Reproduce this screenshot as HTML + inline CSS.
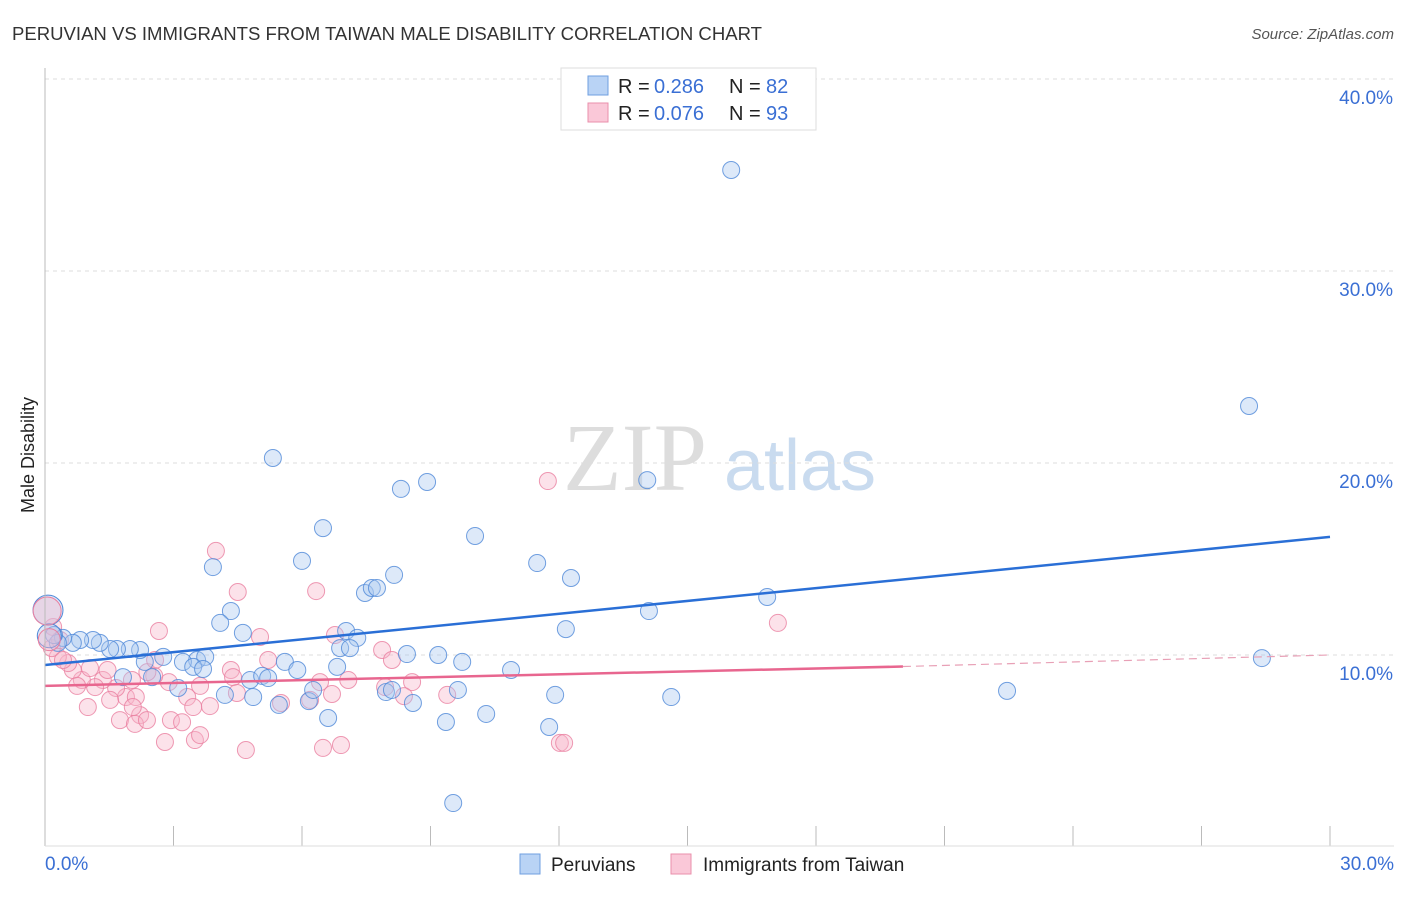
<!DOCTYPE html>
<html><head><meta charset="utf-8"><style>
body{margin:0;background:#fff;font-family:"Liberation Sans",sans-serif}
</style></head><body>
<svg width="1406" height="892" xmlns="http://www.w3.org/2000/svg" id="svg">
<text x="12" y="40" font-size="18" fill="#333" textLength="750" lengthAdjust="spacingAndGlyphs">PERUVIAN VS IMMIGRANTS FROM TAIWAN MALE DISABILITY CORRELATION CHART</text>
<text x="1394" y="39" font-size="15" fill="#555" font-style="italic" text-anchor="end">Source: ZipAtlas.com</text>
<text x="635" y="490" font-size="96" fill="#ddd" font-family="Liberation Serif" text-anchor="middle">ZIP</text>
<text x="800" y="490" font-size="72" fill="#c9dbef" text-anchor="middle">atlas</text>
<text transform="translate(34,455) rotate(-90)" font-size="18" fill="#222" text-anchor="middle">Male Disability</text>
<g id="grid"></g><g id="pts"></g><g id="lines"></g>
<line x1="45" y1="68" x2="45" y2="846" stroke="#bbb"/>
<line x1="45" y1="846" x2="1394" y2="846" stroke="#ddd"/>
<text x="45" y="870" font-size="19" fill="#3a6fd4">0.0%</text>
<text x="1394" y="870" font-size="19" fill="#3a6fd4" text-anchor="end">30.0%</text>
<g>
<rect x="561" y="68" width="255" height="62" fill="#fff" stroke="#ddd"/>
<rect x="588" y="76" width="20" height="19" fill="#b9d3f5" stroke="#6f9fe0"/>
<rect x="588" y="103" width="20" height="19" fill="#fac8d8" stroke="#ea8fab"/>
<text x="618" y="93" font-size="20" fill="#222">R =</text>
<text x="654" y="93" font-size="20" fill="#3a6fd4">0.286</text>
<text x="729" y="93" font-size="20" fill="#222">N =</text>
<text x="766" y="93" font-size="20" fill="#3a6fd4">82</text>
<text x="618" y="120" font-size="20" fill="#222">R =</text>
<text x="654" y="120" font-size="20" fill="#3a6fd4">0.076</text>
<text x="729" y="120" font-size="20" fill="#222">N =</text>
<text x="766" y="120" font-size="20" fill="#3a6fd4">93</text>
</g>
<g>
<rect x="520" y="854" width="20" height="20" fill="#b9d3f5" stroke="#6f9fe0"/>
<text x="551" y="871" font-size="19" fill="#222">Peruvians</text>
<rect x="671" y="854" width="20" height="20" fill="#fac8d8" stroke="#ea8fab"/>
<text x="703" y="871" font-size="19" fill="#222">Immigrants from Taiwan</text>
</g>
</svg>
<script>
const yTicks=[10,20,30,40];
const xTicks=[0,3,6,9,12,15,18,21,24,27,30];
const blueX=[16.02,28.11,28.41,22.46,5.32,8.31,8.92,14.06,6.49,10.04,11.49,12.28,6.00,3.92,8.15,7.47,7.63,7.75,16.86,14.10,4.34,4.09,12.16,4.62,7.03,7.29,6.89,7.12,8.45,9.18,9.74,10.88,6.82,5.60,5.89,3.55,3.74,3.22,3.46,2.76,2.33,2.22,1.98,1.68,1.52,1.28,1.12,0.82,0.65,0.42,0.30,0.21,9.64,7.96,8.1,8.59,11.91,14.62,4.20,4.79,5.07,5.21,4.86,5.46,6.16,6.26,6.61,9.36,10.3,11.77,9.53,3.11,2.5,1.82,3.69];
const blueY=[35.26,22.97,9.84,8.13,20.26,18.65,19.01,19.11,16.61,16.20,14.79,14.01,14.90,14.58,14.17,13.23,13.49,13.49,13.02,12.29,12.29,11.67,11.35,11.15,11.25,10.89,10.36,10.36,10.05,10.0,9.64,9.22,9.38,9.64,9.22,9.74,9.9,9.64,9.38,9.9,9.64,10.26,10.31,10.31,10.31,10.63,10.78,10.78,10.63,10.89,10.63,11.04,8.18,8.07,8.18,7.5,7.92,7.81,7.92,8.7,8.91,8.8,7.81,7.4,7.6,8.18,6.72,6.51,6.93,6.25,2.29,8.28,8.85,8.85,9.27];
const pinkX=[11.74,3.99,4.5,6.33,17.11,2.66,5.02,6.77,7.87,8.1,5.21,4.34,4.39,6.42,7.08,8.57,7.94,8.38,9.39,6.7,6.19,5.51,4.48,3.62,3.85,3.32,3.46,2.89,2.55,2.39,2.03,1.89,2.12,1.66,1.35,1.46,1.0,1.17,0.86,0.65,0.75,0.54,0.3,0.16,0.19,0.35,1.75,2.22,2.1,2.38,2.94,3.2,2.8,3.5,3.62,4.69,6.49,6.91,12.02,12.12,2.05,1.52,2.57,1.05,0.42];
const pinkY=[19.06,15.42,13.28,13.33,11.67,11.25,10.94,11.04,10.26,9.74,9.74,9.22,8.85,8.59,8.7,8.59,8.33,7.86,7.92,7.97,7.66,7.5,8.02,8.39,7.34,7.81,7.29,8.59,8.91,9.11,8.7,7.81,7.81,8.28,8.7,9.22,7.29,8.33,8.7,9.22,8.39,9.58,9.9,10.36,11.46,10.78,6.61,6.87,6.41,6.61,6.61,6.5,5.47,5.57,5.83,5.05,5.16,5.31,5.42,5.42,7.29,7.66,9.74,9.32,9.74];
const blueBig=[[0.07,12.34,15],[0.1,11.0,12]];
const pinkBig=[[0.05,12.29,14],[0.1,10.8,11]];
const blueTrend=[9.48,16.15];
const pinkTrend=[8.39,9.4,10.0];
const pinkSolidEnd=20.03;
const sx=v=>45+v*(1285/30);
const sy=v=>655-(v-10)*19.2;
const NS='http://www.w3.org/2000/svg';
function mk(t,a,parent){const e=document.createElementNS(NS,t);for(const k in a)e.setAttribute(k,a[k]);document.getElementById(parent).appendChild(e);return e;}
yTicks.forEach(t=>{
 const l=mk('line',{x1:45,x2:1394,y1:sy(t),y2:sy(t),stroke:'#ddd','stroke-dasharray':'4,4'},'grid');
 
 
 const tx=mk('text',{x:1393,y:sy(t)+25,'font-size':19,fill:'#3a6fd4','text-anchor':'end'},'grid');
 tx.textContent=t.toFixed(1)+'%';
 
 
});
xTicks.forEach(t=>{
 const l=mk('line',{x1:sx(t),x2:sx(t),y1:826,y2:846,stroke:'#bbb'},'grid');
 
 
});
function pts(X,Y,fill,stroke,name){X.forEach((x,i)=>{
 const c=mk('circle',{cx:sx(x),cy:sy(Y[i]),r:8.5,fill:fill,'fill-opacity':0.4,stroke:stroke,'stroke-width':1,'stroke-opacity':0.8},'pts');
 
 
});}
pts(pinkX,pinkY,'#f7b6cb','#ea7fa0','point-taiwan');
pts(blueX,blueY,'#a9c8f0','#4f88d8','point-peruvian');
blueBig.concat(pinkBig).forEach((b,i)=>{
 const c=mk('circle',{cx:sx(b[0]),cy:sy(b[1]),r:b[2],fill:i<2?'#a9c8f0':'#f7b6cb','fill-opacity':0.4,stroke:i<2?'#4f88d8':'#ea7fa0'},'pts');
 
 
});
let l=mk('line',{x1:sx(0),y1:sy(blueTrend[0]),x2:sx(30),y2:sy(blueTrend[1]),stroke:'#2a6fd6','stroke-width':2.5},'lines');


l=mk('line',{x1:sx(0),y1:sy(pinkTrend[0]),x2:sx(pinkSolidEnd),y2:sy(pinkTrend[1]),stroke:'#e8668f','stroke-width':2.5},'lines');


l=mk('line',{x1:sx(pinkSolidEnd),y1:sy(pinkTrend[1]),x2:sx(30),y2:sy(pinkTrend[2]),stroke:'#e8a0b6','stroke-width':1.2,'stroke-dasharray':'8,5'},'lines');


</script>
</body></html>
